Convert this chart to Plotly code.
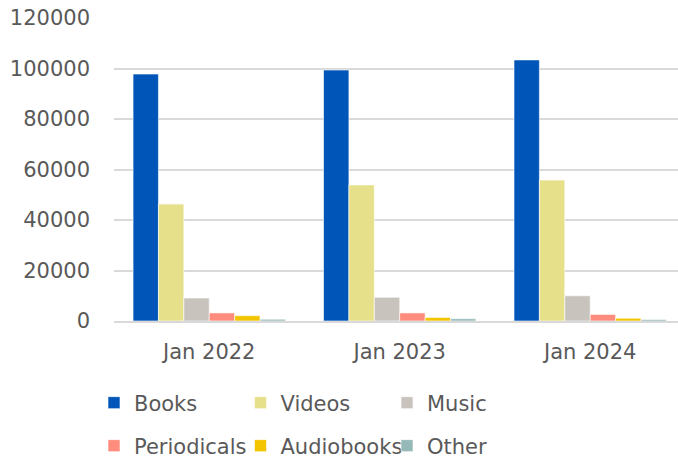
import plotly.graph_objects as go

categories = ["Jan 2022", "Jan 2023", "Jan 2024"]
series_names = ["Books", "Videos", "Music", "Periodicals", "Audiobooks", "Other"]
books = [97800, 99400, 103400]
videos = [46300, 53900, 55800]
music = [9100, 9400, 10000]
periodicals = [3200, 3200, 2600]
audiobooks = [2100, 1400, 1100]
other = [700, 900, 600]
y_ticks = [0, 20000, 40000, 60000, 80000, 100000, 120000]

values = [books, videos, music, periodicals, audiobooks, other]
colors = ["#0055B8", "#E6E08A", "#C9C3BD", "#FF8C7D", "#F2C500", "#95B8B8"]
legends = ["legend", "legend", "legend", "legend2", "legend2", "legend2"]

fig = go.Figure()
for name, vals, col, lg in zip(series_names, values, colors, legends):
    fig.add_trace(go.Bar(
        x=categories, y=vals, name=name,
        marker=dict(color=col, line=dict(color="white", width=0.6)),
        legend=lg,
    ))

font = dict(family="DejaVu Sans", size=21, color="#595959")
legend_common = dict(
    orientation="h", xanchor="left", yanchor="middle",
    xref="container", yref="container",
    font=font, bgcolor="rgba(0,0,0,0)", borderwidth=0,
    entrywidth=101.5, entrywidthmode="pixels", itemwidth=30,
    x=94 / 678, tracegroupgap=0,
)

fig.update_layout(
    width=678, height=462,
    margin=dict(l=114, r=0, t=18, b=141, autoexpand=False),
    paper_bgcolor="white", plot_bgcolor="white",
    barmode="group", bargap=0.2, bargroupgap=0,
    font=font,
    showlegend=True,
    legend=dict(**legend_common, y=1 - 403 / 462),
    legend2=dict(**legend_common, y=1 - 446 / 462),
    xaxis=dict(
        type="category", range=[-0.5, 2.461], automargin=False,
        showline=True, linecolor="#D9D9D9", linewidth=2,
        ticks="", ticklabelstandoff=11, tickfont=font,
        showgrid=False, zeroline=False,
    ),
    yaxis=dict(
        range=[0, 120000], tickvals=y_ticks, tickformat="d", automargin=False,
        showgrid=True, gridcolor="#D9D9D9", gridwidth=1.5,
        zeroline=False, showline=False, ticks="",
        ticklabelstandoff=23, tickfont=font,
    ),
)

fig.write_html(
    "out.html",
    config={"displayModeBar": False},
    post_script="document.body.style.margin='0';document.body.style.overflow='hidden';",
)
